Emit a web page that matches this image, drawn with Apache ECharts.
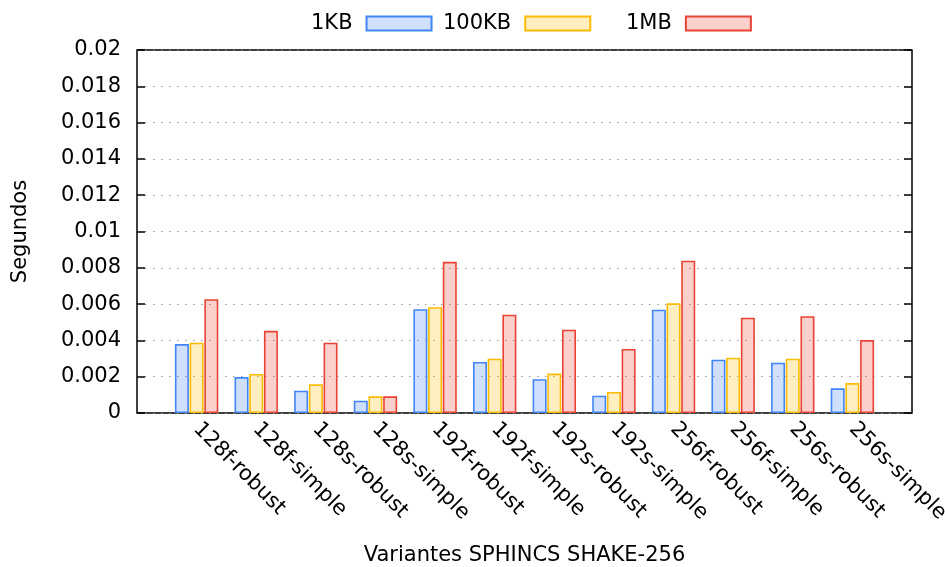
<!DOCTYPE html>
<html>
<head>
<meta charset="utf-8">
<script src="https://cdn.jsdelivr.net/npm/echarts@6/dist/echarts.min.js"></script>
<style>html,body{margin:0;padding:0;background:#fff;}#c{width:945px;height:567px;}</style>
</head>
<body>
<div id="c"></div>
<script>
const categories = ['128f-robust','128f-simple','128s-robust','128s-simple','192f-robust','192f-simple','192s-robust','192s-simple','256f-robust','256f-simple','256s-robust','256s-simple'];
const kb1   = [0.00380, 0.00198, 0.00123, 0.00068, 0.00572, 0.00281, 0.00186, 0.00095, 0.00569, 0.00294, 0.00277, 0.00136];
const kb100 = [0.00387, 0.00215, 0.00158, 0.00092, 0.00583, 0.00299, 0.00217, 0.00116, 0.00604, 0.00305, 0.00299, 0.00165];
const mb1   = [0.00627, 0.00453, 0.00387, 0.00092, 0.00833, 0.00542, 0.00459, 0.00353, 0.00839, 0.00525, 0.00533, 0.00402];
const yTicks = [0, 0.002, 0.004, 0.006, 0.008, 0.01, 0.012, 0.014, 0.016, 0.018, 0.02];

const FONT = 'DejaVu Sans';
const FS = 21;
const toPts = arr => arr.map((v, i) => [i, v]);
const mkSeries = (name, data, fill, border) => ({
  name, type: 'bar', data: toPts(data), barWidth: 14, barGap: '5%',
  itemStyle: { color: fill, borderColor: border, borderWidth: 1.6 },
  emphasis: { disabled: true }
});
const legendText = { fontFamily: FONT, fontSize: FS, color: '#000', padding: [0, 9, 0, 0] };
const legendBase = { top: 8, align: 'right', icon: 'rect', itemWidth: 65, itemHeight: 14, textStyle: legendText, selectedMode: false };
const chart = echarts.init(document.getElementById('c'), null, { renderer: 'canvas' });
chart.setOption({
  animation: false,
  backgroundColor: '#fff',
  textStyle: { fontFamily: FONT },
  legend: [
    Object.assign({ data: ['1KB'], left: 306 }, legendBase),
    Object.assign({ data: ['100KB'], left: 438 }, legendBase),
    Object.assign({ data: ['1MB'], left: 621 }, legendBase)
  ],
  grid: { left: 137, right: 33, top: 50, bottom: 154, show: true, borderColor: '#000', borderWidth: 1.5, containLabel: false, outerBoundsMode: 'none' },
  xAxis: {
    type: 'value', min: -1, max: 12, interval: 1,
    name: 'Variantes SPHINCS SHAKE-256', nameLocation: 'middle', nameGap: 132,
    nameTextStyle: { fontFamily: FONT, fontSize: FS, color: '#000' },
    axisLine: { show: false, onZero: false }, axisTick: { show: false }, splitLine: { show: false },
    axisLabel: {
      rotate: -45, margin: 13, fontFamily: FONT, fontSize: FS, color: '#000',
      formatter: v => (categories[v] !== undefined ? categories[v] : '')
    }
  },
  yAxis: [
    {
      type: 'value', min: 0, max: 0.02, interval: 0.002,
      name: 'Segundos', nameLocation: 'middle', nameGap: 106, nameRotate: 90,
      nameTextStyle: { fontFamily: FONT, fontSize: FS, color: '#000' },
      axisLine: { show: false, onZero: false },
      axisTick: { show: true, inside: true, length: 8, lineStyle: { color: '#000', width: 1.5 } },
      axisLabel: { margin: 16, fontFamily: FONT, fontSize: FS, color: '#000',
        formatter: v => String(parseFloat(v.toFixed(4))) },
      splitLine: { show: true, lineStyle: { color: '#999', width: 1.2, type: [1.5, 6.5] } }
    },
    {
      type: 'value', min: 0, max: 0.02, interval: 0.002, position: 'right',
      axisLine: { show: false, onZero: false },
      axisTick: { show: true, inside: true, length: 8, lineStyle: { color: '#000', width: 1.5 } },
      axisLabel: { show: false }, splitLine: { show: false }
    }
  ],
  series: [
    mkSeries('1KB', kb1, 'rgba(66,133,244,0.25)', '#4285f4'),
    mkSeries('100KB', kb100, 'rgba(251,188,5,0.25)', '#fbbc05'),
    mkSeries('1MB', mb1, 'rgba(234,67,53,0.25)', '#ea4335')
  ]
});
</script>
</body>
</html>
